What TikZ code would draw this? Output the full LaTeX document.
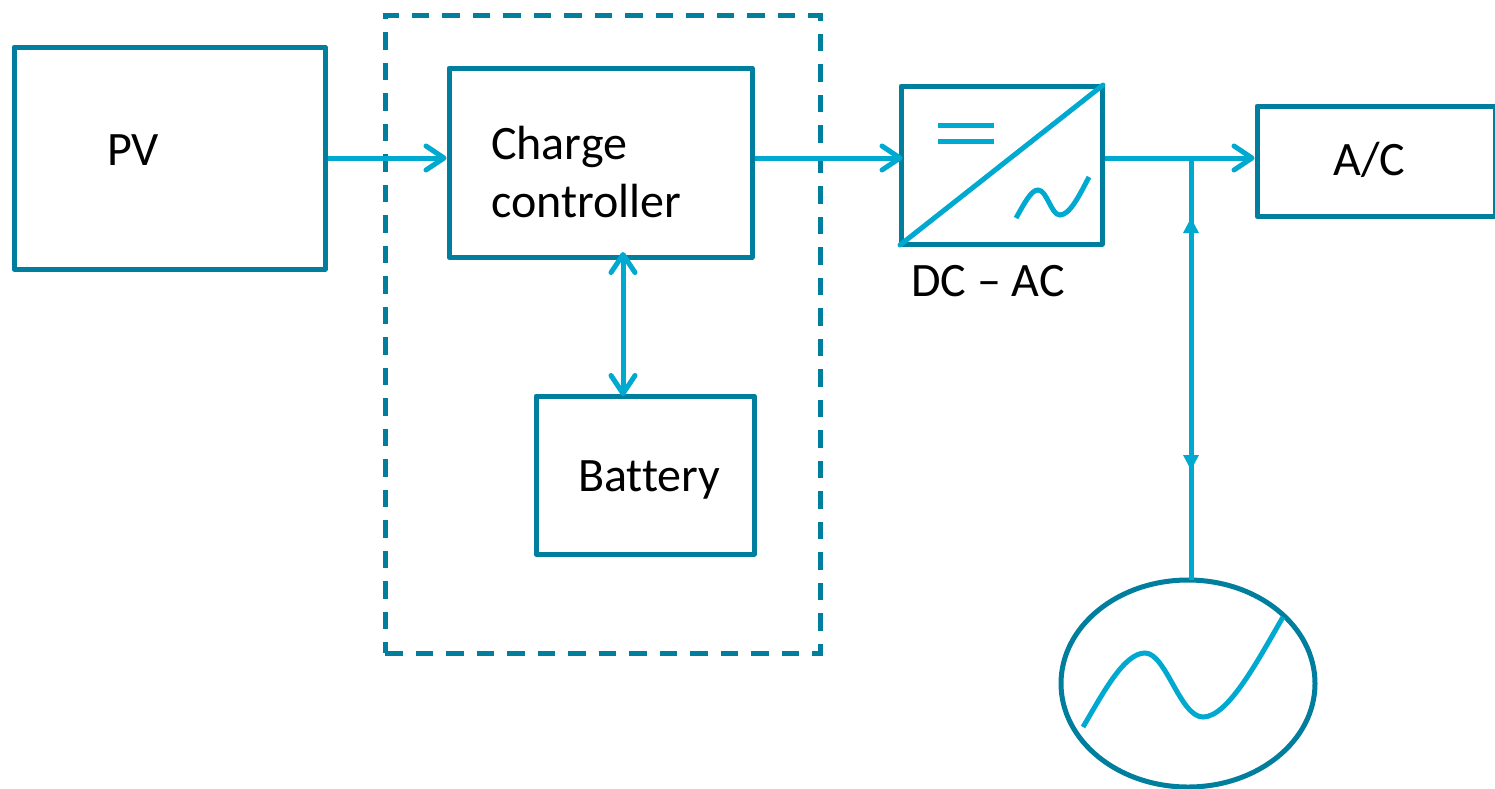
\documentclass[tikz,border=0pt]{standalone}
\usepackage{fontspec}
\setmainfont[Ligatures={NoCommon}]{Carlito}
\usetikzlibrary{arrows.meta,shapes.geometric}
\definecolor{boxcol}{HTML}{007E9E}
\definecolor{linecol}{HTML}{00A9CF}
\tikzset{
  boxnode/.style={draw=boxcol,line width=5pt,rectangle,inner sep=0pt,line join=round},
  label text/.style={anchor=base west,inner sep=0pt,text=black,font=\fontsize{48}{48}\selectfont},
  wire/.style={draw=linecol,line width=5pt},
  openarrow/.style={wire,-{Straight Barb[length=18pt,width=24pt,round,line width=5pt]}},
  dbl/.style={wire,{Straight Barb[length=18pt,width=24pt,round,line width=5pt]}-{Straight Barb[length=18pt,width=24pt,round,line width=5pt]}},
  wave/.style={draw=linecol,line width=5pt,line cap=butt}
}
\begin{document}
\begin{tikzpicture}[x=1pt,y=-1pt]
\useasboundingbox (0,0) rectangle (1495,788);
\fill[white] (0,0) rectangle (1495,788);
% dashed enclosure
\node[draw=boxcol,line width=5pt,rectangle,inner sep=0pt,dash pattern=on 17.5pt off 13pt,minimum width=435pt,minimum height=638pt] (group) at (602.5,334) {};
% boxes
\node[boxnode,minimum width=311pt,minimum height=222pt] (pv) at (169.5,158) {};
\node[boxnode,minimum width=303pt,minimum height=189pt] (cc) at (600.5,162.5) {};
\node[boxnode,minimum width=218pt,minimum height=158pt] (bat) at (645,475) {};
\node[boxnode,minimum width=201pt,minimum height=158pt] (inv) at (1001.5,165) {};
\node[boxnode,minimum width=238pt,minimum height=110pt] (ac) at (1376,161) {};
\node[draw=boxcol,line width=5pt,ellipse,inner sep=0pt,minimum width=254pt,minimum height=207pt] (grid) at (1188,683.5) {};
% labels
\node[label text] (tpv) at (107,165) {PV};
\node[label text] (tcharge) at (491,159) {Charge};
\node[label text] (tctrl) at (491,217) {controller};
\node[label text] (tbat) at (578,491) {Battery};
\node[label text] (tdc) at (911,296) {DC – AC};
\node[label text] (tac) at (1333,175) {A/C};
% helper coordinates
\coordinate (gtop) at (1191,580);
\coordinate (j) at (gtop |- pv.east);
\coordinate (uptip) at (gtop |- 0,218);
\coordinate (downtip) at (gtop |- 0,470);
% connectors
\draw[openarrow] (pv.east) -- (cc.west |- pv.east);
\draw[openarrow] (cc.east |- pv.east) -- ([xshift=4pt]inv.west |- pv.east);
\draw[openarrow] (inv.east |- pv.east) -- (ac.west |- pv.east);
\draw[dbl] (623,252) -- (623,396);
\draw[wire] (gtop) -- (j);
\fill[linecol] (uptip) -- ++(-8,15) -- ++(16,0) -- cycle;
\fill[linecol] (downtip) -- ++(-8,-15) -- ++(16,0) -- cycle;
% inverter symbol
\draw[wire,line cap=round] ([shift={(1.5,-1.5)}]inv.south west) -- ([shift={(-1.5,1.5)}]inv.north east);
\draw[wire] (938,125) -- (994,125);
\draw[wire] (938,141) -- (994,141);
\draw[wave] (1016,218) .. controls (1024,204) and (1031,190) .. (1038,190) .. controls (1047,190) and (1051,215) .. (1060,215) .. controls (1070,215) and (1080,194) .. (1089,177);
% grid wave
\draw[wave] (1083,727) .. controls (1103,693) and (1124,653) .. (1145,653) .. controls (1166,653) and (1180,717) .. (1203,717) .. controls (1228,717) and (1258,660) .. (1283,617);
\end{tikzpicture}
\end{document}
